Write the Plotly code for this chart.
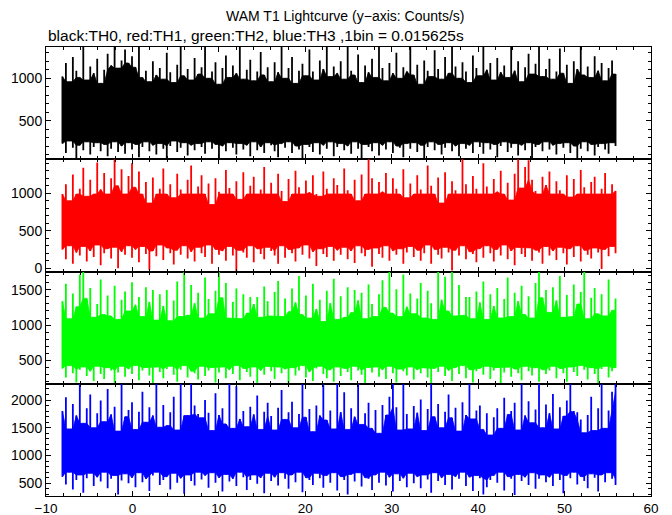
import numpy as np
import plotly.graph_objects as go
from plotly.subplots import make_subplots

# Light curve summarised per ~0.4 s: max (hi) and min (lo) counts/s of the 1/64 s bins
T_START = -8.1
BIN_S = 0.4025

th0_hi = [1020, 1180, 960, 1250, 1090, 1010, 1400, 980, 1140, 1060, 1230, 940, 1100, 1290, 1150, 1400, 1120, 1210, 1340, 1180,
          1260, 1130, 1400, 1010, 1090, 960, 1200, 1040, 1120, 990, 1300, 1070, 950, 1160, 1400, 1030, 1110, 980, 1240, 1050,
          1130, 1400, 1000, 1080, 1190, 930, 1120, 1270, 1010, 1150, 1060, 1400, 990, 1100, 1220, 970, 1080, 1310, 1040, 1130,
          960, 1190, 1070, 1400, 1000, 1120, 1250, 940, 1090, 1170, 1030, 1340, 1080, 980, 1210, 1110, 1400, 1020, 1140, 1060,
          1200, 990, 1400, 1090, 1040, 1280, 950, 1150, 1070, 1230, 1010, 1400, 1120, 970, 1180, 1060, 1300, 1000, 1130, 1080,
          1400, 1040, 1160, 930, 1210, 1090, 1020, 1330, 1110, 990, 1250, 1060, 1400, 1140, 1000, 1190, 1080, 950, 1270, 1120,
          1030, 1400, 1100, 1180, 980, 1240, 1070, 1150, 1010, 1400, 1090, 1200, 960, 1130, 1290, 1050, 1170, 1400, 1020, 1110,
          1230, 990, 1080, 1350, 1060, 1160, 940, 1200, 1110, 1400, 1040, 1140, 1010, 1260, 1090, 1180, 970, 1120, 1210, 1050]
th0_lo = [230, 120, 260, 180, 60, 210, 150, 250, 100, 190, 240, 140, 220, 80, 170, 250, 130, 200, 110, 240,
          160, 220, 70, 190, 250, 140, 210, 100, 230, 170, 50, 200, 260, 130, 180, 240, 90, 210, 150, 230,
          190, 110, 250, 170, 220, 60, 200, 140, 240, 180, 100, 230, 160, 210, 80, 250, 150, 190, 120, 240,
          210, 140, 70, 230, 180, 250, 120, 200, 160, 50, 220, 190, 130, 240, 100, 210, 170, 250, 80, 190,
          230, 150, 200, 110, 250, 170, 60, 220, 190, 140, 240, 90, 210, 160, 250, 120, 200, 180, 70, 230,
          170, 240, 130, 210, 50, 190, 250, 150, 220, 100, 180, 240, 140, 200, 80, 230, 170, 210, 120, 250,
          190, 110, 240, 160, 220, 70, 200, 250, 130, 180, 230, 90, 210, 150, 240, 60, 190, 220, 140, 250,
          160, 210, 100, 230, 180, 240, 120, 200, 50, 170, 250, 140, 220, 90, 190, 230, 160, 110, 240, 200]

th1_hi = [990, 1120, 900, 1250, 990, 1060, 1340, 960, 1180, 990, 1410, 1050, 1270, 990, 1200, 1480, 1100, 1320, 990, 1230,
          1400, 1080, 1290, 990, 1150, 870, 1210, 990, 1060, 1330, 990, 1120, 940, 1260, 1050, 990, 1180, 1370, 990, 1090,
          1240, 990, 1130, 850, 1200, 1020, 990, 1310, 1070, 990, 1160, 920, 1280, 990, 1100, 1220, 990, 1050, 1350, 990,
          1140, 990, 1260, 1030, 890, 1190, 990, 1300, 1080, 990, 1170, 1010, 1240, 990, 960, 1290, 1060, 990, 1200, 1110,
          990, 1330, 1040, 990, 1180, 900, 1250, 990, 1480, 1200, 990, 1150, 1020, 1270, 990, 1200, 1060, 990, 1320, 940,
          1130, 990, 1240, 1050, 990, 1370, 1100, 990, 1210, 870, 1280, 990, 1160, 1040, 990, 1480, 1120, 990, 1230, 1060,
          990, 1400, 1090, 990, 1190, 1020, 1300, 990, 1140, 910, 1260, 1480, 1070, 1350, 1440, 1180, 1030, 990, 1220, 1110,
          1290, 990, 1160, 1040, 990, 1240, 950, 1190, 990, 1310, 1080, 990, 1150, 1220, 990, 1060, 1270, 990, 1120, 1030]
th1_lo = [250, 120, 300, 60, 210, 170, 290, 90, 230, 150, 310, 40, 200, 260, 130, 280, 0, 220, 180, 300,
          140, 250, 80, 290, 190, -20, 230, 160, 310, 110, 270, 200, 50, 240, 180, 300, 130, 220, 90, 280,
          200, 150, 310, 60, 250, 180, 230, 100, 290, 170, -40, 240, 210, 140, 300, 80, 260, 190, 120, 280,
          230, 170, 60, 300, 140, 250, 200, 90, 270, 180, 310, 130, 220, 30, 260, 190, 150, 290, 100, 240,
          180, 280, 120, 230, 70, 300, 200, 160, 250, 20, 270, 190, 140, 300, 100, 230, 180, 260, 60, 210,
          290, 150, 240, 100, 200, 310, 60, 250, 180, 130, 280, 210, -30, 240, 170, 300, 120, 220, 190, 80,
          260, 140, 300, 200, 90, 250, 170, 310, 120, 230, 40, 280, 190, 150, 270, 100, 240, 210, 60, 290,
          170, 230, 110, 280, 200, 50, 260, 150, 300, 90, 240, 180, 130, 270, 210, -10, 250, 160, 290, 200]

th2_hi = [1340, 1590, 1090, 1450, 1260, 1720, 1790, 1380, 1530, 1110, 1300, 1650, 1150, 1420, 1130, 1560, 1080, 1360, 1480, 1200,
          1610, 1290, 1400, 1120, 1540, 1330, 1500, 1070, 1440, 1270, 1500, 1060, 1350, 1620, 1120, 1790, 1140, 1570, 1310, 1460,
          1100, 1680, 1370, 1160, 1490, 1790, 1390, 1600, 1100, 1330, 1520, 1090, 1440, 1170, 1400, 1300, 1400, 1110, 1550, 1340,
          1130, 1470, 1630, 1120, 1380, 1190, 1520, 1320, 1700, 1150, 1420, 1100, 1590, 1230, 1360, 1050, 1490, 1310, 1660, 1080,
          1410, 1110, 1540, 1180, 1500, 1350, 1460, 1090, 1580, 1300, 1120, 1440, 1640, 1250, 1790, 1170, 1510, 1120, 1720, 1260,
          1450, 1160, 1380, 1600, 1100, 1490, 1310, 1080, 1790, 1360, 1690, 1200, 1790, 1130, 1570, 1140, 1400, 1400, 1090, 1480,
          1320, 1620, 1080, 1440, 1270, 1530, 1100, 1370, 1680, 1120, 1460, 1340, 1560, 1150, 1410, 1100, 1600, 1790, 1390, 1500,
          1180, 1540, 1350, 1700, 1110, 1430, 1120, 1580, 1300, 1470, 1790, 1090, 1390, 1530, 1160, 1440, 1130, 1650, 1210, 1380]
th2_lo = [380, 250, 420, 310, 180, 360, 400, 270, 340, 200, 410, 300, 230, 390, 350, 170, 320, 410, 260, 370,
          300, 420, 210, 350, 390, 280, 160, 400, 330, 240, 370, 410, 290, 190, 360, 420, 250, 340, 310, 220,
          410, 270, 350, 390, 180, 320, 400, 240, 360, 300, 420, 210, 380, 330, 260, 400, 170, 350, 290, 410,
          340, 230, 400, 310, 370, 160, 390, 280, 350, 420, 250, 330, 200, 380, 410, 300, 240, 360, 190, 400,
          270, 380, 330, 210, 410, 350, 290, 170, 390, 320, 400, 260, 360, 230, 410, 310, 180, 370, 340, 280,
          400, 220, 360, 310, 390, 250, 170, 380, 330, 410, 270, 350, 200, 390, 300, 420, 240, 360, 180, 340,
          380, 290, 410, 230, 350, 390, 160, 320, 400, 260, 370, 310, 210, 410, 340, 280, 390, 190, 360, 300,
          350, 410, 240, 380, 310, 190, 400, 330, 270, 420, 360, 220, 390, 300, 170, 370, 410, 250, 340, 390]

th3_hi = [1800, 2050, 1480, 1930, 1720, 2320, 1580, 1850, 2100, 1500, 1760, 1990, 1610, 2200, 1740, 1880, 1440, 2320, 1700, 1820,
          1960, 1470, 1790, 2150, 1600, 1870, 1720, 2320, 1510, 1910, 1540, 1780, 2060, 1460, 2320, 1720, 1720, 2320, 1900, 1750,
          1680, 2000, 1770, 1450, 2120, 1730, 1850, 1570, 2320, 1490, 2250, 1660, 1800, 1520, 1880, 1740, 2080, 1470, 1790, 1950,
          1710, 1460, 1860, 2180, 1650, 1780, 1970, 1500, 1750, 2320, 1690, 1840, 1430, 1900, 1720, 2320, 1640, 1810, 1480, 2320,
          1780, 2140, 1470, 1850, 1700, 2320, 1560, 1760, 1950, 1490, 1820, 1400, 1910, 1730, 2060, 2320, 1870, 1460, 2320, 1750,
          1480, 1890, 1770, 2010, 1450, 1840, 2320, 1700, 1930, 1500, 1790, 2100, 1680, 1860, 1440, 1960, 1730, 2320, 1660, 1810,
          1900, 1470, 1760, 1370, 1690, 1850, 1490, 2040, 1740, 1800, 1950, 1460, 2320, 1720, 1980, 1590, 1830, 2320, 1500, 1920,
          1760, 2110, 1480, 1870, 1710, 1990, 2320, 1800, 1780, 1650, 1410, 1730, 2060, 1450, 1850, 2320, 1490, 1810, 2150, 2320]
th3_lo = [620, 480, 700, 390, 560, 650, 330, 590, 680, 450, 610, 530, 700, 410, 580, 640, 300, 550, 670, 500,
          600, 430, 690, 520, 580, 360, 640, 700, 470, 560, 620, 390, 680, 510, 590, 310, 650, 540, 460, 700,
          570, 640, 420, 690, 510, 600, 350, 660, 530, 580, 450, 700, 610, 380, 560, 650, 490, 600, 320, 680,
          540, 610, 460, 690, 580, 400, 650, 520, 700, 340, 600, 560, 470, 680, 590, 420, 640, 510, 690, 370,
          620, 560, 300, 660, 530, 690, 440, 600, 580, 380, 650, 510, 700, 460, 610, 350, 670, 540, 590, 430,
          680, 500, 620, 410, 650, 570, 330, 690, 540, 600, 470, 660, 390, 620, 580, 700, 450, 610, 360, 640,
          590, 300, 430, 560, 640, 510, 700, 370, 620, 580, 290, 660, 540, 610, 470, 690, 400, 580, 650, 520,
          610, 450, 680, 560, 320, 640, 590, 700, 480, 620, 540, 410, 670, 600, 350, 650, 520, 690, 580, 470]

series = [
    ("TH0", th0_hi, th0_lo, "#000000", [45, 1369], [500, 1000]),
    ("TH1", th1_hi, th1_lo, "#ff0000", [-43, 1454], [0, 500, 1000]),
    ("TH2", th2_hi, th2_lo, "#00ff00", [161, 1764], [500, 1000, 1500]),
    ("TH3", th3_hi, th3_lo, "#0000ff", [271, 2293], [500, 1000, 1500, 2000]),
]

FONT = "Liberation Sans, Arial, Helvetica, sans-serif"

fig = make_subplots(rows=4, cols=1, shared_xaxes=True, vertical_spacing=0)


def rolling(arr, fn):
    out = np.empty_like(arr)
    n = len(arr)
    for i in range(n):
        out[i] = fn(arr[max(0, i - 1):min(n, i + 2)])
    return out


for r, (name, hi, lo, color, yr, ticks) in enumerate(series, start=1):
    n = min(len(hi), len(lo))
    hi = np.array(hi[:n], float)
    lo = np.array(lo[:n], float)
    t = T_START + BIN_S * np.arange(n)
    # solid core of the band (where neighbouring bins overlap)
    core_top = rolling(hi, np.min)
    core_bot = rolling(lo, np.max)
    poly_x = np.concatenate([t, t[::-1]])
    poly_y = np.concatenate([core_top, core_bot[::-1]])
    fig.add_trace(go.Scatter(x=poly_x, y=poly_y, mode="lines", fill="toself",
                             fillcolor=color, line=dict(width=0.8, color=color),
                             hoverinfo="skip", name=name), row=r, col=1)
    # per-bin extremes as vertical strokes
    vx, vy = [], []
    for i in range(n):
        vx += [t[i], t[i], None]
        vy += [lo[i], hi[i], None]
    fig.add_trace(go.Scatter(x=vx, y=vy, mode="lines", line=dict(width=1.8, color=color),
                             hoverinfo="skip", name=name), row=r, col=1)
    fig.update_yaxes(row=r, col=1, range=yr, tickvals=ticks, ticks="inside", ticklen=5,
                     tickcolor="black", mirror="allticks", showline=True, linecolor="black",
                     linewidth=1, showgrid=False, zeroline=False, automargin=False,
                     minor=dict(dtick=100, tick0=0, ticks="inside", ticklen=3, tickcolor="black", showgrid=False),
                     tickfont=dict(size=14, color="black", family=FONT))
    fig.update_xaxes(row=r, col=1, range=[-10, 60], dtick=10, tick0=0, ticks="inside", ticklen=5,
                     tickcolor="black", mirror="allticks", showline=True, linecolor="black",
                     linewidth=1, showgrid=False, zeroline=False, automargin=False,
                     minor=dict(dtick=2, tick0=0, ticks="inside", ticklen=3, tickcolor="black", showgrid=False),
                     tickfont=dict(size=13.5, color="black", family=FONT))

fig.update_layout(
    width=672, height=515,
    margin=dict(l=46, r=21, t=47, b=19, autoexpand=False),
    paper_bgcolor="white", plot_bgcolor="white",
    showlegend=False,
    font=dict(family=FONT, size=14, color="black"),
    annotations=[
        dict(text="WAM T1 Lightcurve (y\u2212axis: Counts/s)", xref="paper", yref="paper",
             x=0.494, y=1.069, xanchor="center", yanchor="middle", showarrow=False,
             font=dict(size=14, color="black", family=FONT)),
        dict(text="black:TH0, red:TH1, green:TH2, blue:TH3 ,1bin = 0.015625s", xref="paper", yref="paper",
             x=0.0, y=1.026, xanchor="left", yanchor="middle", showarrow=False,
             font=dict(size=15.5, color="black", family=FONT)),
    ],
)

fig.write_html("out.html", config={"displayModeBar": False},
               post_script="document.body.style.margin='0px';")
